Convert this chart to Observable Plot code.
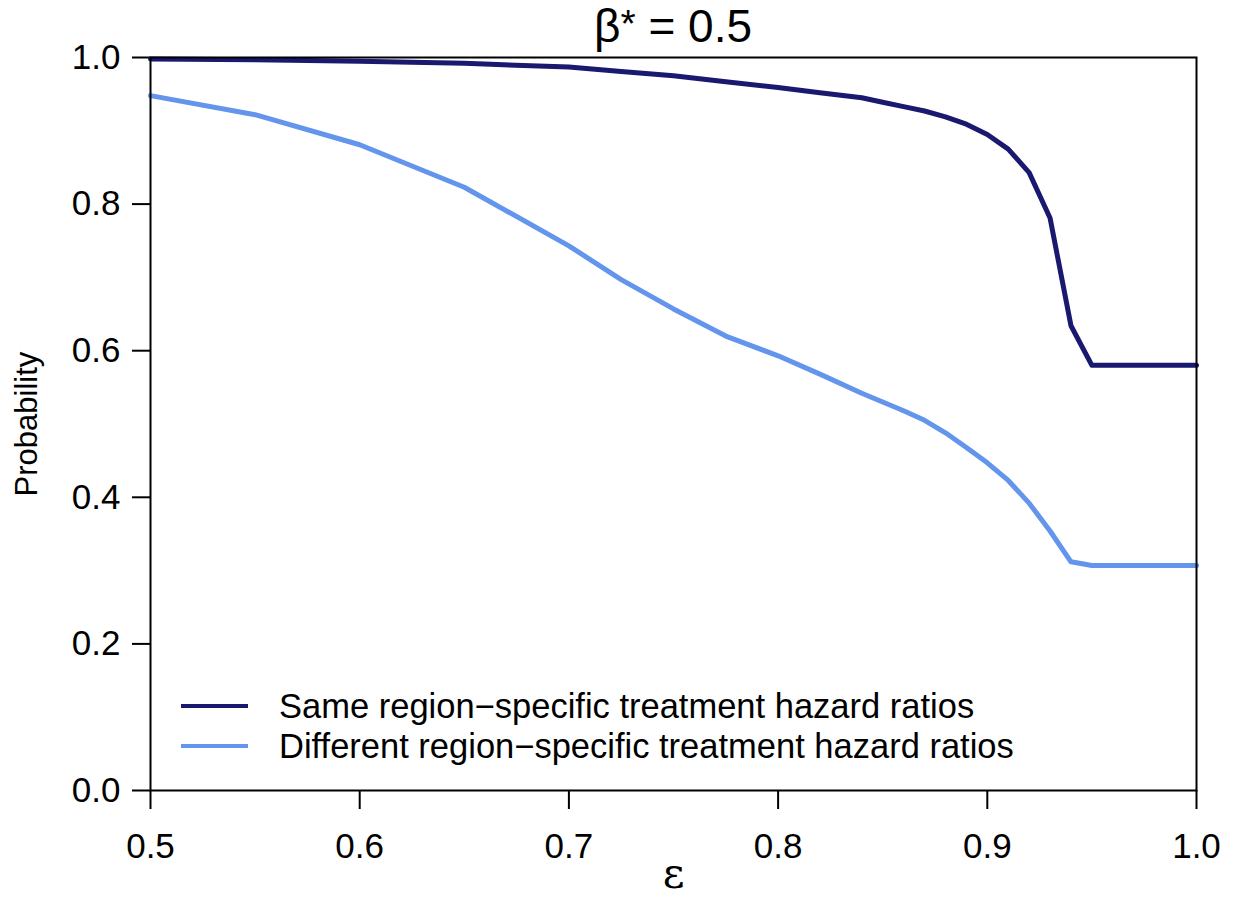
<!DOCTYPE html>
<html><head><meta charset="utf-8">
<script src="https://cdn.jsdelivr.net/npm/d3@7"></script>
<script src="https://cdn.jsdelivr.net/npm/@observablehq/plot@0.6"></script>
<style>
body{margin:0;background:#fff;font-family:"Liberation Sans",Arial,sans-serif;}
#wrap{position:relative;width:1234px;height:911px;overflow:hidden;}
#title{position:absolute;left:150px;top:0;width:1046px;height:57px;text-align:center;font-size:46px;line-height:52px;color:#000;white-space:nowrap;z-index:2;}
#title .st{font-size:0.85em;position:relative;top:-0.12em;}
#legend{position:absolute;left:181px;top:686px;font-size:34.5px;color:#000;z-index:2;}
#legend .row{display:flex;align-items:center;height:40px;white-space:nowrap;}
#legend .key{display:inline-block;width:67px;height:4px;margin-right:31px;}
</style>
</head><body>
<div id="wrap">
<div id="title">β<span class="st">*</span> = 0.5</div>
<div id="chart"></div>
<div id="legend"></div>
</div>
<script>
const epsilon = [0.5,0.55,0.6,0.65,0.7,0.725,0.75,0.775,0.8,0.82,0.84,0.85,0.86,0.87,0.88,0.89,0.9,0.91,0.92,0.93,0.94,0.95,1.0];
const sameHR = [0.998,0.997,0.995,0.992,0.987,0.981,0.975,0.967,0.959,0.952,0.945,0.939,0.933,0.927,0.919,0.909,0.895,0.875,0.843,0.781,0.634,0.580,0.580];
const diffHR = [0.948,0.922,0.881,0.823,0.743,0.697,0.657,0.620,0.593,0.568,0.542,0.530,0.518,0.505,0.488,0.468,0.447,0.423,0.392,0.354,0.312,0.307,0.307];
const seriesNames = ["Same region\u2212specific treatment hazard ratios","Different region\u2212specific treatment hazard ratios"];
const seriesColors = ["#191970","#6495ED"];
const xTicks = [0.5,0.6,0.7,0.8,0.9,1.0];
const yTicks = [0,0.2,0.4,0.6,0.8,1.0];

const rows = [];
epsilon.forEach((e,i)=>{ rows.push({eps:e, p:sameHR[i], s:seriesNames[0]}); });
epsilon.forEach((e,i)=>{ rows.push({eps:e, p:diffHR[i], s:seriesNames[1]}); });

const fmt = d3.format(".1f");
const chart = Plot.plot({
  width:1234, height:911,
  marginTop:57, marginBottom:121, marginLeft:150, marginRight:38,
  style:{fontFamily:"'Liberation Sans',Arial,sans-serif", background:"#fff", color:"#000", overflow:"visible"},
  x:{domain:[0.5,1.0]},
  y:{domain:[0,1]},
  color:{domain:seriesNames, range:seriesColors},
  marks:[
    Plot.axisX({ticks:xTicks, tickFormat:fmt, tickSize:19, tickPadding:24, fontSize:35, strokeWidth:2, label:null}),
    Plot.axisY({ticks:yTicks, tickFormat:fmt, tickSize:18, tickPadding:12, fontSize:35, strokeWidth:2, label:null}),
    Plot.line(rows, {x:"eps", y:"p", z:"s", stroke:"s", strokeWidth:5, strokeLinejoin:"round"}),
    Plot.frame({stroke:"#000", strokeWidth:2}),
    Plot.text(["Probability"], {frameAnchor:"left", rotate:-90, dx:-123, fontSize:31, fill:"#000", textAnchor:"middle"}),
    Plot.text(["\u03b5"], {frameAnchor:"bottom", dy:97, fontSize:42, fill:"#000", fontFamily:"'DejaVu Serif','Liberation Serif',serif"})
  ]
});
document.getElementById("chart").appendChild(chart);

const leg = document.getElementById("legend");
seriesNames.forEach((n,i)=>{
  const r = document.createElement("div"); r.className="row";
  const k = document.createElement("span"); k.className="key"; k.style.background=seriesColors[i];
  const t = document.createElement("span"); t.textContent=n;
  r.appendChild(k); r.appendChild(t); leg.appendChild(r);
});
</script>
</body></html>
